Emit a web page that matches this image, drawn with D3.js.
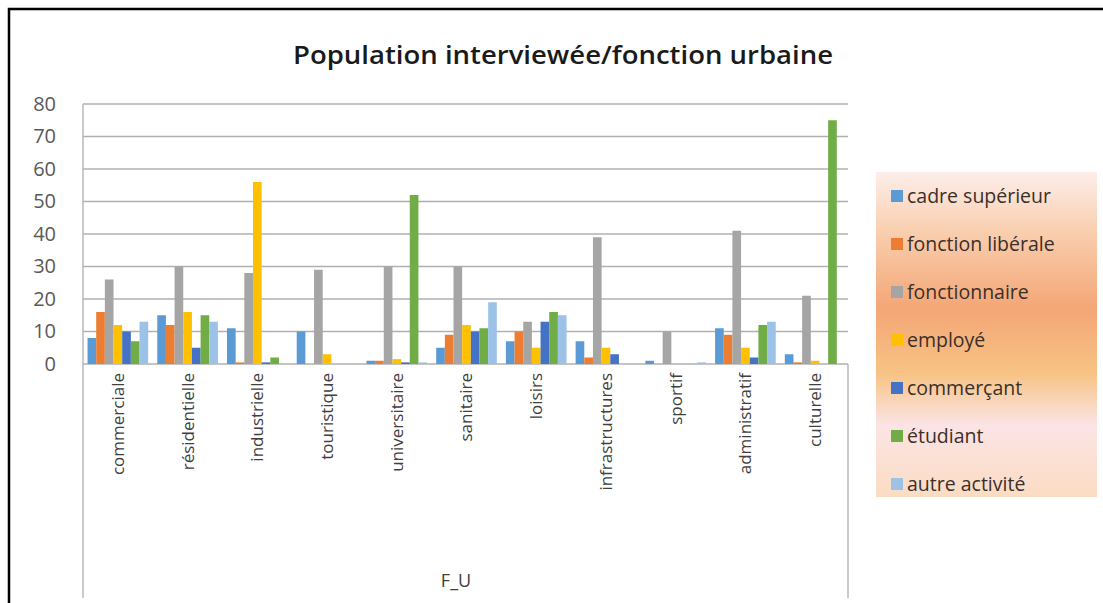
<!DOCTYPE html>
<html><head><meta charset="utf-8">
<script src="https://cdn.jsdelivr.net/npm/d3@7"></script>
<style>
html,body{margin:0;padding:0;background:#fff;}
svg{display:block;font-family:"Open Sans",sans-serif;}
</style></head>
<body><svg id="c" width="1103" height="603"></svg>
<script>
const categories = ["commerciale","résidentielle","industrielle","touristique","universitaire","sanitaire","loisirs","infrastructures","sportif","administratif","culturelle"];
const seriesNames = ["cadre supérieur","fonction libérale","fonctionnaire","employé","commerçant","étudiant","autre activité"];
const cadreSuperieur   = [8, 15, 11, 10, 1, 5, 7, 7, 1, 11, 3];
const fonctionLiberale = [16, 12, 0.5, 0, 1, 9, 10, 2, 0, 9, 0.5];
const fonctionnaire    = [26, 30, 28, 29, 30, 30, 13, 39, 10, 41, 21];
const employe          = [12, 16, 56, 3, 1.5, 12, 5, 5, 0, 5, 1];
const commercant       = [10, 5, 0.5, 0, 0.5, 10, 13, 3, 0, 2, 0];
const etudiant         = [7, 15, 2, 0, 52, 11, 16, 0, 0, 12, 75];
const autreActivite    = [13, 13, 0, 0, 0.5, 19, 15, 0, 0.5, 13, 0];
const yTicks = [0,10,20,30,40,50,60,70,80];
const colors = ["#5b9bd5","#ed7d31","#a5a5a5","#ffc000","#4472c4","#70ad47","#9cc2e8"];

const seriesValues = [cadreSuperieur, fonctionLiberale, fonctionnaire, employe, commercant, etudiant, autreActivite];
const svg = d3.select("#c");

// outer frame
svg.append("rect").attr("x",9).attr("y",9).attr("width",1110).attr("height",620)
  .attr("fill","#fff").attr("stroke","#000").attr("stroke-width",2.5);

// gradient for legend
const defs = svg.append("defs");
const g = defs.append("linearGradient").attr("id","lg").attr("x1","0").attr("y1","0").attr("x2","0").attr("y2","1");
[["0%","#fdeeea"],["18%","#f9cfb0"],["42%","#f4a676"],["62%","#f7c384"],["78%","#fbe4e6"],["100%","#fbdcc2"]]
  .forEach(([o,c])=>g.append("stop").attr("offset",o).attr("stop-color",c));

const L = 83, R = 850, T = 104, B = 364;
const x0 = d3.scaleBand().domain(categories).range([L, R]).paddingInner(0.13).paddingOuter(0.065);
const x1 = d3.scaleBand().domain(seriesNames).range([0, x0.bandwidth()]);
const y = d3.scaleLinear().domain([0, 80]).range([B, T]);

// gridlines
svg.append("g").selectAll("line").data(yTicks).join("line")
  .attr("x1", L).attr("x2", 848).attr("y1", d=>y(d)).attr("y2", d=>y(d))
  .attr("stroke","#b0b0b0").attr("stroke-width",1.5);

// plot area box lines
svg.append("line").attr("x1",L).attr("x2",L).attr("y1",T).attr("y2",598).attr("stroke","#b8b8b8").attr("stroke-width",1.5);
svg.append("line").attr("x1",848).attr("x2",848).attr("y1",B).attr("y2",598).attr("stroke","#b8b8b8").attr("stroke-width",1.5);

// bars
const gBars = svg.append("g");
seriesValues.forEach((vals, si) => {
  gBars.append("g").selectAll("rect").data(vals.map((v,i)=>({cat:categories[i], v})))
    .join("rect")
    .attr("x", d => x0(d.cat) + x1(seriesNames[si]))
    .attr("width", x1.bandwidth())
    .attr("y", d => y(d.v))
    .attr("height", d => B - y(d.v))
    .attr("fill", colors[si]);
});

// y axis
const yAxis = d3.axisLeft(y).tickValues(yTicks).tickSize(0).tickPadding(0);
const ya = svg.append("g").attr("transform", `translate(56,0)`).call(yAxis);
ya.select(".domain").remove();
ya.selectAll("text").attr("font-size",20).attr("fill","#595959").attr("font-family","Open Sans, sans-serif");

// x axis labels
const xAxis = d3.axisBottom(x0).tickSize(0).tickPadding(0);
const xa = svg.append("g").attr("transform", `translate(0,${B})`).call(xAxis);
xa.select(".domain").remove();
xa.selectAll("text")
  .attr("transform","rotate(-90)")
  .attr("text-anchor","end")
  .attr("x",-9).attr("y",0).attr("dy","0.35em")
  .attr("font-size",17).attr("fill","#404040").attr("font-family","Open Sans, sans-serif");

// axis title
svg.append("text").attr("x",456).attr("y",587).attr("text-anchor","middle")
  .attr("font-size",18).attr("fill","#404040").text("F_U");

// chart title
svg.append("text").attr("x",563).attr("y",64).attr("text-anchor","middle")
  .attr("font-size",25).attr("font-weight",600).attr("fill","#1a1a1a")
  .attr("textLength",540).attr("lengthAdjust","spacingAndGlyphs")
  .text("Population interviewée/fonction urbaine");

// legend
const lg = svg.append("g");
lg.append("rect").attr("x",876).attr("y",172).attr("width",221).attr("height",325).attr("fill","url(#lg)");
const ly = d3.scalePoint().domain(seriesNames).range([196, 484]);
const items = lg.selectAll("g.item").data(seriesNames).join("g").attr("class","item")
  .attr("transform", d => `translate(891,${ly(d)})`);
items.append("rect").attr("x",0).attr("y",-6).attr("width",12).attr("height",12)
  .attr("fill",(d,i)=>colors[i]);
items.append("text").attr("x",16).attr("y",0).attr("dy","0.35em")
  .attr("font-size",19.5).attr("fill","#3b2f2a").text(d=>d);
</script>
</body></html>
